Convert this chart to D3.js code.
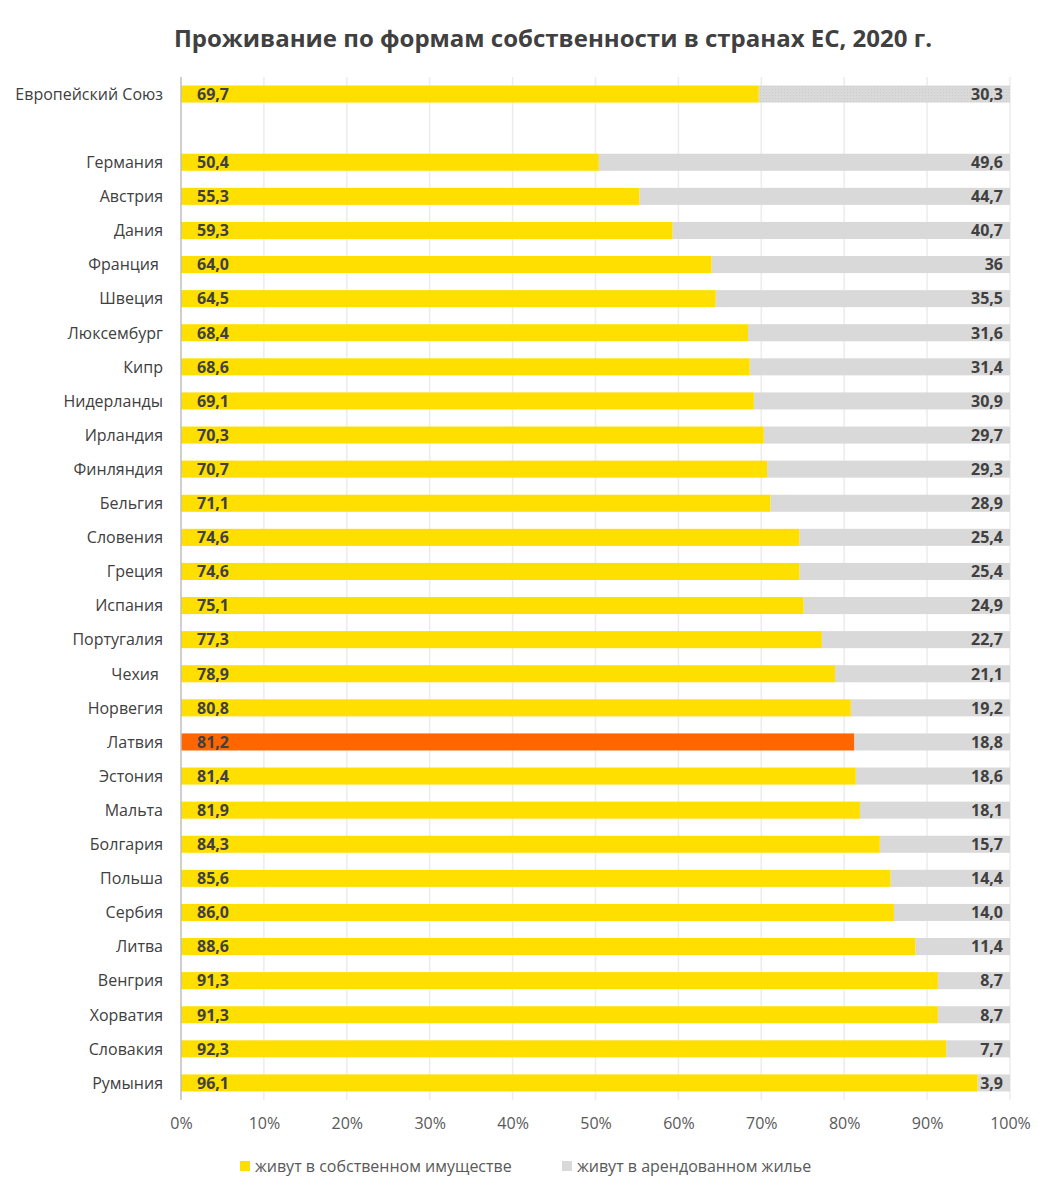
<!DOCTYPE html>
<html>
<head>
<meta charset="utf-8">
<script src="https://cdn.jsdelivr.net/npm/d3@7"></script>
<style>
  body { margin: 0; background: #fff; }
  text { font-family: "Open Sans", sans-serif; }
</style>
</head>
<body>
<svg id="chart" width="1054" height="1197"></svg>
<script>
// categories, top to bottom ("" is the empty gap row after the EU)
const countries = ["Европейский Союз", "", "Германия", "Австрия", "Дания", "Франция ", "Швеция", "Люксембург", "Кипр",
  "Нидерланды", "Ирландия", "Финляндия", "Бельгия", "Словения", "Греция", "Испания", "Португалия", "Чехия ",
  "Норвегия", "Латвия", "Эстония", "Мальта", "Болгария", "Польша", "Сербия", "Литва", "Венгрия", "Хорватия",
  "Словакия", "Румыния"];
const owned = [69.7, null, 50.4, 55.3, 59.3, 64.0, 64.5, 68.4, 68.6, 69.1, 70.3, 70.7, 71.1, 74.6, 74.6, 75.1,
  77.3, 78.9, 80.8, 81.2, 81.4, 81.9, 84.3, 85.6, 86.0, 88.6, 91.3, 91.3, 92.3, 96.1];
const rented = [30.3, null, 49.6, 44.7, 40.7, 36, 35.5, 31.6, 31.4, 30.9, 29.7, 29.3, 28.9, 25.4, 25.4, 24.9,
  22.7, 21.1, 19.2, 18.8, 18.6, 18.1, 15.7, 14.4, 14.0, 11.4, 8.7, 8.7, 7.7, 3.9];
const rentedLabels = ["30,3", "", "49,6", "44,7", "40,7", "36", "35,5", "31,6", "31,4", "30,9", "29,7", "29,3",
  "28,9", "25,4", "25,4", "24,9", "22,7", "21,1", "19,2", "18,8", "18,6", "18,1", "15,7", "14,4", "14,0", "11,4",
  "8,7", "8,7", "7,7", "3,9"];
const xTicks = [0, 10, 20, 30, 40, 50, 60, 70, 80, 90, 100];
const seriesNames = ["живут в собственном имуществе", "живут в арендованном жилье"];

const colOwn = "#FFDF00", colRent = "#D9D9D9", colHighlight = "#FF6600";
const highlight = "Латвия", summary = "Европейский Союз";

const svg = d3.select("#chart");
const margin = { top: 77, left: 181, right: 44, bottom: 97 };
const width = 1054 - margin.left - margin.right;
const height = 1197 - margin.top - margin.bottom;

const defs = svg.append("defs");
const pat = defs.append("pattern").attr("id", "dots")
  .attr("width", 3).attr("height", 3).attr("patternUnits", "userSpaceOnUse");
pat.append("rect").attr("width", 3).attr("height", 3).attr("fill", colRent);
pat.append("rect").attr("width", 1).attr("height", 1).attr("fill", "#cbcbcb");

svg.append("text")
  .attr("x", 553).attr("y", 47)
  .attr("text-anchor", "middle")
  .style("font-size", "24px").style("font-weight", "bold").style("fill", "#404040")
  .text("Проживание по формам собственности в странах ЕС, 2020 г.");

const x = d3.scaleLinear().domain([0, 100]).range([0, width]);
const y = d3.scaleBand().domain(d3.range(countries.length)).range([0, height]).paddingInner(0.5).paddingOuter(0.25);

const g = svg.append("g").attr("transform", `translate(${margin.left},${margin.top})`);

// gridlines
g.append("g").selectAll("line").data(xTicks.slice(1)).join("line")
  .attr("x1", d => x(d)).attr("x2", d => x(d))
  .attr("y1", 0).attr("y2", height)
  .attr("stroke", "#ececec").attr("stroke-width", 1.5);

const rows = countries.map((c, i) => ({ c, i, own: owned[i], rent: rented[i], rl: rentedLabels[i] }))
  .filter(d => d.own != null);

g.append("g").selectAll("rect").data(rows).join("rect")
  .attr("x", d => x(d.own)).attr("y", d => y(d.i))
  .attr("width", d => x(d.own + d.rent) - x(d.own)).attr("height", y.bandwidth())
  .attr("fill", d => d.c === summary ? "url(#dots)" : colRent);

g.append("g").selectAll("rect").data(rows).join("rect")
  .attr("x", x(0)).attr("y", d => y(d.i))
  .attr("width", d => x(d.own)).attr("height", y.bandwidth())
  .attr("fill", d => d.c === highlight ? colHighlight : colOwn);

// left axis line
g.append("line").attr("x1", 0).attr("x2", 0).attr("y1", 0).attr("y2", height)
  .attr("stroke", "#bfbfbf").attr("stroke-width", 1.5);

// value labels
const lab = g.append("g").style("font-size", "16px").style("font-weight", "bold").style("fill", "#404040");
lab.selectAll(".own").data(rows).join("text")
  .attr("x", 16).attr("y", d => y(d.i) + y.bandwidth() / 2).attr("dy", "0.36em")
  .text(d => d3.format(".1f")(d.own).replace(".", ","));
lab.selectAll(".rent").data(rows).join("text")
  .attr("x", width - 7).attr("y", d => y(d.i) + y.bandwidth() / 2).attr("dy", "0.36em")
  .attr("text-anchor", "end")
  .text(d => d.rl);

// category labels
g.append("g").selectAll("text").data(rows).join("text")
  .attr("x", -18).attr("y", d => y(d.i) + y.bandwidth() / 2).attr("dy", "0.36em")
  .attr("text-anchor", "end").attr("xml:space", "preserve")
  .style("white-space", "pre")
  .style("font-size", "16px").style("fill", "#404040")
  .text(d => d.c);

// x axis
const xa = g.append("g").attr("transform", `translate(0,${height})`)
  .call(d3.axisBottom(x).tickValues(xTicks).tickFormat(d => d + "%").tickSize(0).tickPadding(18));
xa.select(".domain").remove();
xa.selectAll("text").style("font-size", "16px").style("fill", "#595959").style("font-family", "Open Sans, sans-serif");

// legend
const leg = svg.append("g").attr("transform", "translate(240,1166)");
const legX = [0, 322];
seriesNames.forEach((n, i) => {
  const lg = leg.append("g").attr("transform", `translate(${legX[i]},0)`);
  lg.append("rect").attr("x", 0).attr("y", -5).attr("width", 10).attr("height", 10)
    .attr("fill", i === 0 ? colOwn : colRent);
  lg.append("text").attr("x", 15).attr("y", 0).attr("dy", "0.36em")
    .style("font-size", "16px").style("fill", "#595959").text(n);
});
</script>
</body>
</html>
